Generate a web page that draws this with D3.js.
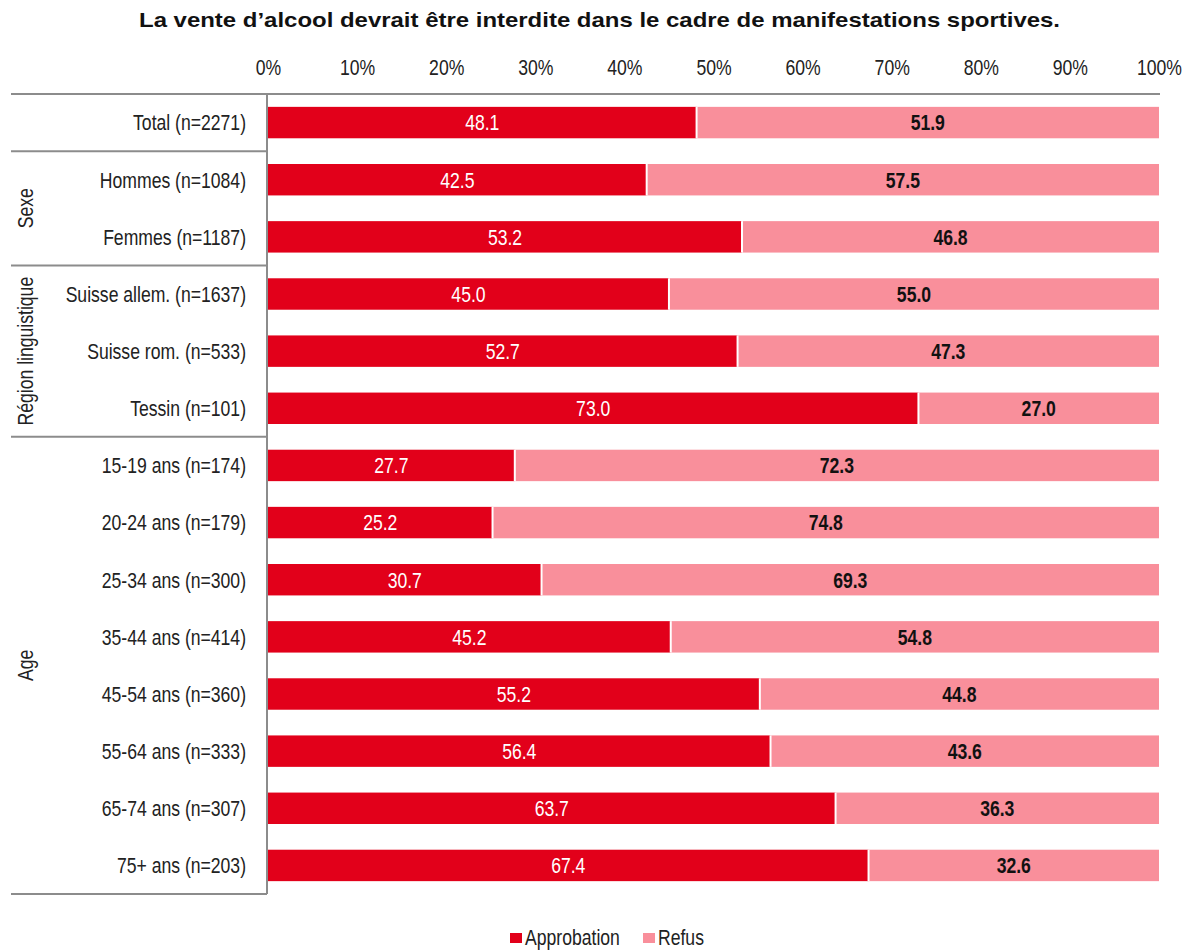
<!DOCTYPE html>
<html>
<head>
<meta charset="utf-8">
<script src="https://cdn.jsdelivr.net/npm/d3@7/dist/d3.min.js"></script>
<style>
  body { margin: 0; background: #fff; }
  svg { display: block; }
  .narrow { font-family: "Liberation Sans", Arial, sans-serif; font-size: 22px; }
</style>
</head>
<body>
<svg id="chart" width="1194" height="951"></svg>
<script>
const title = "La vente d\u2019alcool devrait être interdite dans le cadre de manifestations sportives.";
const categories = [
  "Total (n=2271)",
  "Hommes (n=1084)", "Femmes (n=1187)",
  "Suisse allem. (n=1637)", "Suisse rom. (n=533)", "Tessin (n=101)",
  "15-19 ans (n=174)", "20-24 ans (n=179)", "25-34 ans (n=300)", "35-44 ans (n=414)",
  "45-54 ans (n=360)", "55-64 ans (n=333)", "65-74 ans (n=307)", "75+ ans (n=203)"
];
const approbation = [48.1, 42.5, 53.2, 45.0, 52.7, 73.0, 27.7, 25.2, 30.7, 45.2, 55.2, 56.4, 63.7, 67.4];
const refus       = [51.9, 57.5, 46.8, 55.0, 47.3, 27.0, 72.3, 74.8, 69.3, 54.8, 44.8, 43.6, 36.3, 32.6];
const seriesNames = ["Approbation", "Refus"];
const groups = [
  { name: "", start: 0, end: 0 },
  { name: "Sexe", start: 1, end: 2 },
  { name: "Région linguistique", start: 3, end: 5 },
  { name: "Age", start: 6, end: 13 }
];
const tickValues = [0, 10, 20, 30, 40, 50, 60, 70, 80, 90, 100];

const colors = { Approbation: "#E2001A", Refus: "#F98F9B" };

const svg = d3.select("#chart");
const mLeft = 268, mRight = 1159, mTop = 94, mBottom = 894;
const SX = 0.8; // horizontal condensing to imitate a narrow typeface

// turn x/y of text into a transform so it can be condensed horizontally
function narrowify(sel) {
  sel.each(function() {
    const t = d3.select(this);
    const x = +t.attr("x") || 0, y = +t.attr("y") || 0;
    const tr = t.attr("transform") || "";
    t.attr("x", null).attr("y", null)
     .attr("transform", `${tr} translate(${x},${y}) scale(${SX},1)`);
  });
}

const x = d3.scaleLinear().domain([0, 100]).range([mLeft, mRight]);
const y = d3.scaleBand().domain(categories).range([mTop, mBottom]).paddingInner(0.45).paddingOuter(0.225);

// Title
svg.append("text")
  .attr("x", 139).attr("y", 27)
  .attr("textLength", 921).attr("lengthAdjust", "spacingAndGlyphs")
  .style("font-family", "'Liberation Sans', Arial, sans-serif")
  .style("font-weight", "bold").style("font-size", "21px")
  .attr("fill", "#111")
  .text(title);

// Top axis
const xAxis = d3.axisTop(x).tickValues(tickValues).tickFormat(d => d + "%").tickSize(0).tickPadding(0);
const gx = svg.append("g").attr("transform", `translate(0,${mTop})`).call(xAxis);
gx.select(".domain").remove();
gx.selectAll("text")
  .attr("class", "narrow")
  .attr("y", -19)
  .attr("fill", "#222")
  .call(narrowify);

// Stacked data
const data = categories.map((c, i) => ({ cat: c, Approbation: approbation[i], Refus: refus[i] }));
const stack = d3.stack().keys(seriesNames)(data);

const layers = svg.append("g").selectAll("g").data(stack).join("g")
  .attr("fill", d => colors[d.key]);

layers.selectAll("rect").data(d => d.map(v => ({ v, key: d.key }))).join("rect")
  .attr("x", d => x(d.v[0]))
  .attr("width", d => x(d.v[1]) - x(d.v[0]))
  .attr("y", d => y(d.v.data.cat))
  .attr("height", y.bandwidth());

// separators between segments
svg.append("g").selectAll("line").data(data).join("line")
  .attr("x1", d => x(d.Approbation)).attr("x2", d => x(d.Approbation))
  .attr("y1", d => y(d.cat)).attr("y2", d => y(d.cat) + y.bandwidth())
  .attr("stroke", "#fff").attr("stroke-width", 2);

// Value labels
layers.selectAll("text").data(d => d.map(v => ({ v, key: d.key }))).join("text")
  .attr("class", "narrow")
  .attr("x", d => (x(d.v[0]) + x(d.v[1])) / 2)
  .attr("y", d => y(d.v.data.cat) + y.bandwidth() / 2)
  .attr("dy", "0.36em")
  .attr("text-anchor", "middle")
  .style("font-weight", d => d.key === "Refus" ? "bold" : "normal")
  .attr("fill", d => d.key === "Refus" ? "#111" : "#fff")
  .text(d => (d.v[1] - d.v[0]).toFixed(1))
  .call(narrowify);

// Category labels
const yAxis = d3.axisLeft(y).tickSize(0).tickPadding(22);
const gy = svg.append("g").attr("transform", `translate(${mLeft},0)`).call(yAxis);
gy.select(".domain").remove();
gy.selectAll("text")
  .attr("class", "narrow")
  .attr("dy", "0.36em")
  .attr("fill", "#222")
  .call(narrowify);

// Frame lines
const lineColor = "#8c8c8c";
const frame = svg.append("g").attr("stroke", lineColor).attr("stroke-width", 2);
frame.append("line").attr("x1", 11).attr("x2", mRight + 1).attr("y1", mTop).attr("y2", mTop);
frame.append("line").attr("x1", mLeft - 1).attr("x2", mLeft - 1).attr("y1", mTop).attr("y2", mBottom);
groups.forEach(g => {
  const last = g.end === categories.length - 1;
  const yEnd = last ? mBottom : y(categories[g.end]) + y.bandwidth() + y.step() * y.paddingInner() / 2;
  frame.append("line").attr("x1", 11).attr("x2", mLeft - 1).attr("y1", yEnd).attr("y2", yEnd);
});

// Group labels (rotated)
groups.filter(g => g.name).forEach(g => {
  const y0 = y(categories[g.start]);
  const y1 = y(categories[g.end]) + y.bandwidth();
  const cy = (y0 + y1) / 2;
  svg.append("text")
    .attr("class", "narrow")
    .attr("transform", `translate(33,${cy}) rotate(-90)`)
    .attr("text-anchor", "middle")
    .attr("fill", "#222")
    .text(g.name)
    .call(narrowify);
});

// Legend
const legend = svg.append("g").attr("transform", "translate(0,945)");
const legendItems = [{ key: "Approbation", x: 510 }, { key: "Refus", x: 643 }];
legendItems.forEach(it => {
  legend.append("rect").attr("x", it.x).attr("y", -12).attr("width", 12).attr("height", 10).attr("fill", colors[it.key]);
  legend.append("text").attr("class", "narrow")
    .attr("x", it.x + 15).attr("y", 0)
    .attr("fill", "#222")
    .text(it.key)
    .call(narrowify);
});
</script>
</body>
</html>
